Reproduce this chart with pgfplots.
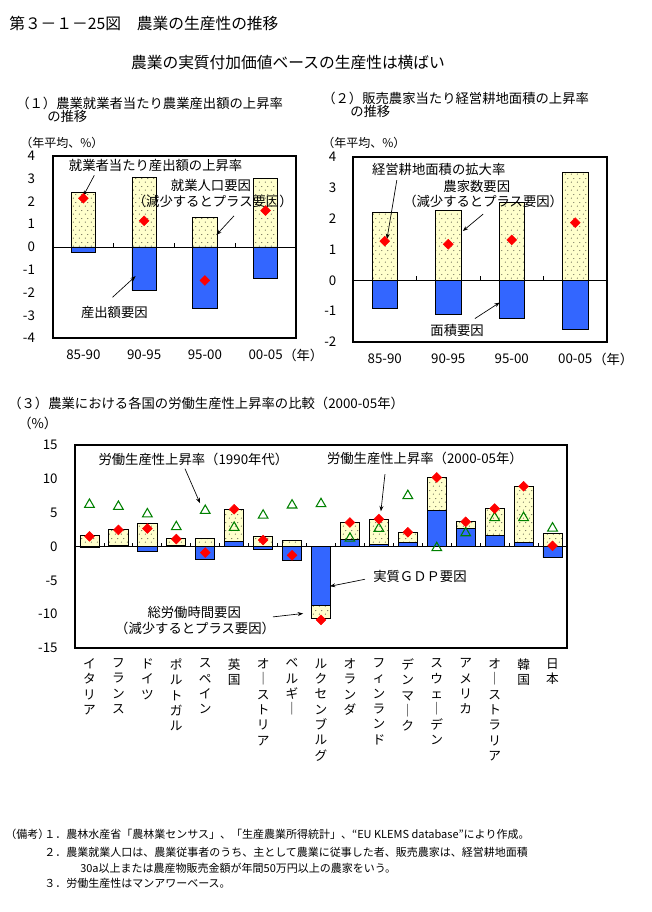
\documentclass[border=0pt]{standalone}
\usepackage{fontspec}
\setmainfont{Noto Sans CJK JP}
\usepackage{pgfplots}
\pgfplotsset{compat=1.18}
\usetikzlibrary{patterns.meta,arrows.meta}

\definecolor{blu}{HTML}{3366FF}
\definecolor{yel}{HTML}{FFFFCC}
\definecolor{grn}{HTML}{008000}
\definecolor{rd}{HTML}{FF0000}

% sparse dot pattern of the yellow bars
\tikzdeclarepattern{
  name=sdots,
  type=uncolored,
  bottom left={(0pt,0pt)},
  top right={(4.5pt,6pt)},
  tile size={(4.5pt,6pt)},
  code={
    \pgfpathcircle{\pgfqpoint{1.1pt}{1.5pt}}{0.4pt}
    \pgfpathcircle{\pgfqpoint{3.35pt}{4.5pt}}{0.4pt}
    \pgfusepath{fill}
  }
}

\tikzset{
  ann/.style={font=\fontsize{10}{12}\selectfont, inner sep=0pt},
  arr/.style={-{Stealth[length=4pt,width=3pt]}, line width=0.5pt},
  txt/.style={anchor=west, inner sep=0pt},
}

\pgfplotsset{
  base/.style={
    scale only axis, clip=false, anchor=north west,
    axis line style={line width=1.4pt},
    tick style={draw=none},
    /pgf/number format/assume math mode=true,
    ticklabel style={font=\fontsize{10}{12}\selectfont},
  },
  ybar yellow/.style={ybar, bar shift=0pt, fill=yel, draw=black, line width=0.6pt,
    postaction={pattern=sdots, pattern color=black}},
  ybar blue/.style={ybar, bar shift=0pt, fill=blu, draw=black, line width=0.6pt},
  dia/.style={only marks, mark=square*, mark size=2.6pt,
    mark options={rotate=45, fill=rd, draw=rd}},
  tri/.style={only marks, mark=triangle, mark size=4.2pt,
    mark options={draw=grn, fill=white, line width=0.8pt}},
}

\begin{document}
\begin{tikzpicture}[x=0.75pt, y=-0.75pt]
\path[use as bounding box] (0,0) rectangle (651,912);

% titles
\node[txt, font=\fontsize{11.8}{13}\selectfont] at (9,24) {第３－１－25図　農業の生産性の推移};
\node[inner sep=0pt, font=\fontsize{11.8}{13}\selectfont] at (288,63) {農業の実質付加価値ベースの生産性は横ばい};

\node[txt, font=\fontsize{10}{12}\selectfont] at (16,103) {（１）農業就業者当たり農業産出額の上昇率};
\node[txt, font=\fontsize{10}{12}\selectfont] at (47,116) {の推移};
\node[txt, font=\fontsize{10}{12}\selectfont] at (322,98) {（２）販売農家当たり経営耕地面積の上昇率};
\node[txt, font=\fontsize{10}{12}\selectfont] at (350,111) {の推移};

\node[txt, font=\fontsize{9}{11}\selectfont] at (20,143) {（年平均、\%）};
\node[txt, font=\fontsize{9}{11}\selectfont] at (322,143) {（年平均、\%）};
\node[txt, font=\fontsize{10}{12}\selectfont] at (283,355) {（年）};
\node[txt, font=\fontsize{10}{12}\selectfont] at (593,359) {（年）};

% (1)
\begin{axis}[base, at={(39.75pt,-117pt)}, width=182.25pt, height=136.5pt,
  xmin=-0.5, xmax=3.5, ymin=-4, ymax=4, ytick={-4,...,4},
  xtick={0,1,2,3}, xticklabels={85-90,90-95,95-00,00-05},
  yticklabel style={xshift=-10pt}, xticklabel style={yshift=-5pt}]
\addplot[ybar yellow, bar width=0.4] coordinates {(0,2.38) (1,3.05) (2,1.28) (3,3.0)};
\addplot[ybar blue, bar width=0.4] coordinates {(0,-0.22) (1,-1.92) (2,-2.72) (3,-1.38)};
\draw[line width=0.6pt] (axis cs:-0.5,0) -- (axis cs:3.5,0);
\pgfplotsinvokeforeach{0.5,1.5,2.5}{\draw[line width=0.6pt] (axis cs:#1,0) -- ++(0pt,3pt);}
\addplot[dia] coordinates {(0,2.14) (1,1.15) (2,-1.47) (3,1.6)};
\node[ann] at (axis cs:1.19,3.6) {就業者当たり産出額の上昇率};
\draw[arr] (axis cs:0.18,3.15) -- (axis cs:0.0,2.25);
\node[ann] at (axis cs:2.1,2.70) {就業人口要因};
\node[ann] at (axis cs:2.13,1.99) {（減少するとプラス要因）};
\draw[arr] (axis cs:2.48,1.37) -- (axis cs:2.19,0.53);
\node[ann] at (axis cs:0.51,-2.88) {産出額要因};
\draw[arr] (axis cs:0.48,-2.21) -- (axis cs:0.86,-1.28);
\end{axis}

% (2)
\begin{axis}[base, at={(264.75pt,-117.75pt)}, width=190.5pt, height=138.75pt,
  xmin=-0.5, xmax=3.5, ymin=-2, ymax=4, ytick={-2,...,4},
  xtick={0,1,2,3}, xticklabels={85-90,90-95,95-00,00-05},
  yticklabel style={xshift=-9pt}, xticklabel style={yshift=-5pt}]
\addplot[ybar yellow, bar width=0.4] coordinates {(0,2.2) (1,2.27) (2,2.53) (3,3.49)};
\addplot[ybar blue, bar width=0.4] coordinates {(0,-0.92) (1,-1.12) (2,-1.22) (3,-1.6)};
\draw[line width=0.6pt] (axis cs:-0.5,0) -- (axis cs:3.5,0);
\pgfplotsinvokeforeach{0.5,1.5,2.5}{\draw[line width=0.6pt] (axis cs:#1,0) -- ++(0pt,3pt);}
\addplot[dia] coordinates {(0,1.27) (1,1.17) (2,1.31) (3,1.87)};
\node[ann] at (axis cs:0.85,3.6) {経営耕地面積の拡大率};
\draw[arr] (axis cs:0.19,3.25) -- (axis cs:0.035,1.34);
\node[ann] at (axis cs:1.45,3.05) {農家数要因};
\node[ann] at (axis cs:1.55,2.57) {（減少するとプラス要因）};
\draw[arr] (axis cs:1.55,2.15) -- (axis cs:1.23,1.6);
\node[ann] at (axis cs:1.14,-1.62) {面積要因};
\draw[arr] (axis cs:1.42,-1.24) -- (axis cs:1.81,-0.72);
\end{axis}

% (3)
\node[txt, font=\fontsize{10}{12}\selectfont] at (8,403) {（３）農業における各国の労働生産性上昇率の比較（2000-05年）};
\node[txt, font=\fontsize{10}{12}\selectfont] at (18,423) {（\%）};

\begin{axis}[base, at={(56.25pt,-333.75pt)}, width=369pt, height=152.25pt,
  xmin=-0.5, xmax=16.5, ymin=-15, ymax=15, ytick={-15,-10,...,15},
  yticklabel style={xshift=-9.5pt},
  xtick={0,...,16},
  xticklabels={{イ\\タ\\リ\\ア},{フ\\ラ\\ン\\ス},{ド\\イ\\ツ},{ポ\\ル\\ト\\ガ\\ル},
    {ス\\ペ\\イ\\ン},{英\\国},{オ\\｜\\ス\\ト\\リ\\ア},{ベ\\ル\\ギ\\｜},
    {ル\\ク\\セ\\ン\\ブ\\ル\\グ},{オ\\ラ\\ン\\ダ},{フ\\ィ\\ン\\ラ\\ン\\ド},
    {デ\\ン\\マ\\｜\\ク},{ス\\ウ\\ェ\\｜\\デ\\ン},{ア\\メ\\リ\\カ},
    {オ\\｜\\ス\\ト\\ラ\\リ\\ア},{韓\\国},{日\\本}},
  xticklabel style={anchor=north, align=center, yshift=-4.5pt,
    font=\fontsize{9.5}{11.5}\selectfont}]
% outer extent of each bar (総労働時間要因 on top of 実質GDP要因)
\addplot[ybar yellow, bar width=0.66] coordinates {
  (0,1.6) (1,2.55) (2,3.4) (3,1.2) (4,1.2) (5,5.5) (6,1.5) (7,0.85) (8,-10.6)
  (9,3.55) (10,4.0) (11,2.1) (12,10.2) (13,3.7) (14,5.6) (15,8.9) (16,1.9)};
% 実質GDP要因
\addplot[ybar blue, bar width=0.66] coordinates {
  (0,-0.15) (1,0.12) (2,-0.75) (3,0.12) (4,-1.9) (5,0.75) (6,-0.4) (7,-2.1) (8,-8.7)
  (9,1.0) (10,0.35) (11,0.6) (12,5.3) (13,2.65) (14,1.7) (15,0.6) (16,-1.65)};
\draw[line width=0.6pt] (axis cs:-0.5,0) -- (axis cs:16.5,0);
\pgfplotsinvokeforeach{0.5,1.5,...,15.5}{\draw[line width=0.6pt] (axis cs:#1,0) -- ++(0pt,3pt);}
% 労働生産性上昇率（1990年代）
\addplot[tri] coordinates {
  (0,6.2) (1,5.9) (2,4.8) (3,2.9) (4,5.3) (5,2.8) (6,4.6) (7,6.1) (8,6.3)
  (9,1.2) (10,2.65) (11,7.5) (12,-0.2) (13,2.0) (14,4.25) (15,4.25) (16,2.7)};
% 労働生産性上昇率（2000-05年）
\addplot[dia] coordinates {
  (0,1.5) (1,2.45) (2,2.65) (3,1.1) (4,-0.9) (5,5.5) (6,0.95) (7,-1.3) (8,-10.85)
  (9,3.55) (10,4.05) (11,2.1) (12,10.2) (13,3.65) (14,5.6) (15,8.9) (16,0.1)};
\node[ann] at (axis cs:3.59,12.9) {労働生産性上昇率（1990年代）};
\draw[arr] (axis cs:3.3,11.5) -- (axis cs:3.82,6.4);
\node[ann] at (axis cs:11.59,13.06) {労働生産性上昇率（2000-05年）};
\draw[arr] (axis cs:10.21,10.7) -- (axis cs:10.07,5.2);
\node[ann] at (axis cs:11.42,-4.4) {実質ＧＤＰ要因};
\draw[arr] (axis cs:9.52,-4.84) -- (axis cs:8.31,-5.88);
\node[ann] at (axis cs:3.62,-9.7) {総労働時間要因};
\node[ann] at (axis cs:3.65,-12.1) {（減少するとプラス要因）};
\draw[arr] (axis cs:6.34,-10.4) -- (axis cs:7.38,-9.9);
\end{axis}

% notes
\begin{scope}[every node/.style={txt, font=\fontsize{8.25}{10}\selectfont}]
\node at (5,834) {（備考）};
\node at (44,834) {１．農林水産省「農林業センサス」、「生産農業所得統計」、“EU KLEMS database”により作成。};
\node at (44,852) {２．農業就業人口は、農業従事者のうち、主として農業に従事した者、販売農家は、経営耕地面積};
\node at (80,868) {30a以上または農産物販売金額が年間50万円以上の農家をいう。};
\node at (44,883) {３．労働生産性はマンアワーベース。};
\end{scope}
\end{tikzpicture}
\end{document}
